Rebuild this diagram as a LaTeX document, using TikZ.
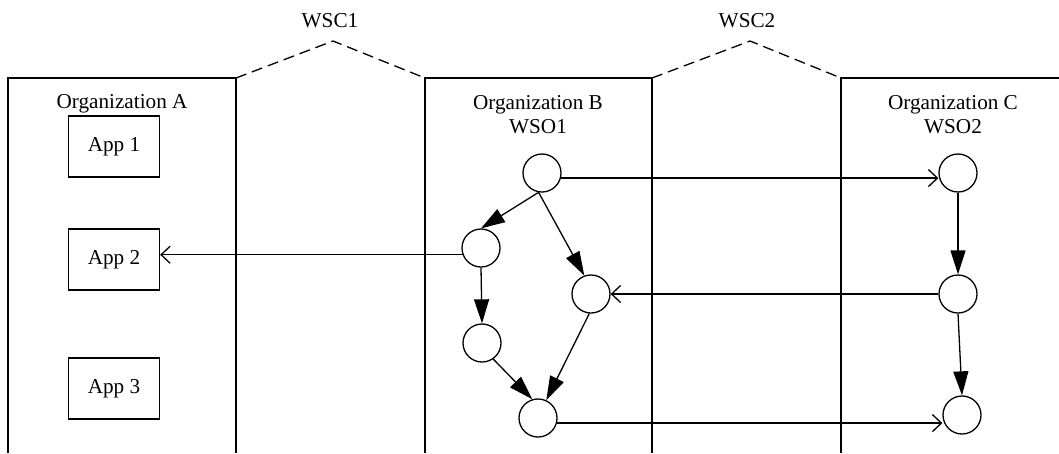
\documentclass[tikz,border=0pt]{standalone}
\usepackage{fontspec}
\setmainfont{Liberation Serif}
\usetikzlibrary{arrows.meta}
\begin{document}
\begin{tikzpicture}[x=1pt,y=-1pt,line width=1.3pt,
  every node/.style={font=\fontsize{21.2}{25}\selectfont},
  circ/.style={draw,circle,minimum size=38pt,inner sep=0pt},
  appbox/.style={draw,minimum width=91pt,minimum height=61pt,inner sep=0pt},
  lbl/.style={anchor=base,inner sep=0pt},
  flow/.style={-{Triangle[length=24pt,width=15pt]}},
  msg/.style={-{Straight Barb[length=9pt,width=17pt]}},
  wsc/.style={dash pattern=on 11pt off 6pt}]
\useasboundingbox (0,0) rectangle (1059,453);
% organization boundaries
\draw (8,453) -- (8,78) -- (236,78) -- (236,453);
\draw (425,453) -- (425,78) -- (652,78) -- (652,453);
\draw (841,453) -- (841,78) -- (1059,78);
% WSC dashed roofs
\draw[wsc] (236,78) -- (333,41) -- (425,78);
\draw[wsc] (652,78) -- (750,41) -- (841,78);
\node[lbl] (wsc1) at (330,27) {WSC1};
\node[lbl] (wsc2) at (747,27) {WSC2};
% labels
\node[lbl] (orgA) at (122,108) {Organization A};
\node[lbl] (orgB) at (538,109) {Organization B};
\node[lbl] (wso1) at (538,133) {WSO1};
\node[lbl] (orgC) at (953,109) {Organization C};
\node[lbl] (wso2) at (953,133) {WSO2};
% apps
\node[appbox] (app1) at (114,146.5) {App 1};
\node[appbox] (app2) at (114,259.5) {App 2};
\node[appbox] (app3) at (114,388.5) {App 3};
% WSO1 circles
\node[circ] (b1) at (542,173) {};
\node[circ] (b2) at (481,248) {};
\node[circ] (b3) at (591,294) {};
\node[circ] (b4) at (482,343) {};
\node[circ] (b5) at (538,418) {};
% WSO2 circles
\node[circ] (c1) at (958,173) {};
\node[circ] (c2) at (958,294) {};
\node[circ] (c3) at (962,415) {};
% internal flows
\draw[flow] (b1.-100) -- (b2.north);
\draw[flow] (b1.-100) -- (b3.110);
\draw[flow] (b2.south) -- (b4.north);
\draw[flow] (b4.-55) -- (b5.107);
\draw[flow] (b3.-95) -- (b5.65);
\draw[flow] (c1.south) -- (c2.north);
\draw[flow] (c2.south) -- (c3.north);
% messages
\draw[msg] (b1.-15) -- (b1.-15 -| c1.west);
\draw[msg] (c2.west) -- (b3.east);
\draw[msg] (b2.200) -- (b2.200 -| app2.east);
\draw[msg] (b5.-15) -- (b5.-15 -| c3.west);
\end{tikzpicture}
\end{document}
